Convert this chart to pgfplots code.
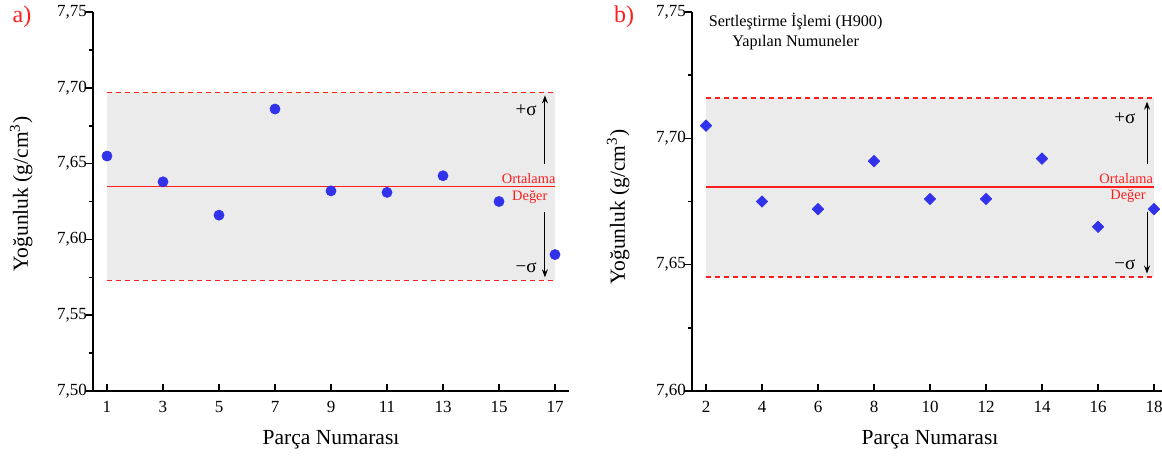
\documentclass[border=0pt]{standalone}
\usepackage{fontspec}
\setmainfont{Liberation Serif}
\usepackage{pgfplots}
\pgfplotsset{compat=1.18}
\usetikzlibrary{arrows.meta}
\definecolor{ptblue}{RGB}{50,50,235}
\definecolor{shadegray}{RGB}{235,235,235}
\definecolor{mred}{RGB}{255,30,30}

\pgfplotsset{
 dens/.style={
  scale only axis, width=238pt, height=189.5pt,
  axis lines*=left,
  axis line style={line width=0.8pt},
  xtick align=inside, ytick align=outside,
  major tick length=3.5pt, minor tick length=2pt,
  every tick/.style={black, line width=0.8pt},
  minor y tick num=1,
  tick label style={font=\fontsize{8.5}{10}\selectfont},
  /pgf/number format/assume math mode=true,
  y tick label style={xshift=4pt, /pgf/number format/.cd, fixed, fixed zerofill, precision=2, use comma, /tikz/.cd},
  x tick label style={yshift=-1.5pt},
  xlabel={Parça Numarası},
  ylabel={Yoğunluk (g/cm\textsuperscript{3})},
  label style={font=\fontsize{10.75}{12}\selectfont},
  x label style={at={(axis description cs:0.5,-0.129)}, anchor=center},
  clip=false,
  redline/.style={draw=mred, line width=0.8pt, mark=none},
  reddash/.style={draw=mred, line width=0.8pt, mark=none, dash pattern=on 2.5pt off 2pt},
  sigarrow/.style={draw=black, line width=0.5pt, mark=none, -{Stealth[length=4pt, width=3pt]}},
 }
}

\begin{document}
\begin{tikzpicture}
% ---------------- a) ----------------
\begin{axis}[dens, at={(46.5pt,33pt)}, anchor=south west,
  xmin=0.5, xmax=17.5, ymin=7.5, ymax=7.75,
  xtick={1,3,5,7,9,11,13,15,17},
  ytick={7.50,7.55,7.60,7.65,7.70,7.75},
  y label style={at={(axis description cs:-0.151,0.52)}, anchor=center}]
\addplot[fill=shadegray, draw=none, mark=none] coordinates {(1,7.573) (17,7.573) (17,7.697) (1,7.697)};
\addplot[reddash] coordinates {(1,7.697) (17,7.697)};
\addplot[reddash] coordinates {(1,7.573) (17,7.573)};
\addplot[redline] coordinates {(1,7.635) (17,7.635)};
\addplot[only marks, mark=*, mark size=2.5pt, mark options={fill=ptblue, draw=ptblue}] coordinates {
 (1,7.655) (3,7.638) (5,7.616) (7,7.686) (9,7.632) (11,7.631) (13,7.642) (15,7.625) (17,7.590)};
\addplot[sigarrow] coordinates {(16.64,7.650) (16.64,7.695)};
\addplot[sigarrow] coordinates {(16.64,7.618) (16.64,7.575)};
\node[text=black, font=\fontsize{9.5}{10}\selectfont, inner sep=0pt] at (axis cs:15.97,7.685) {+σ};
\node[text=black, font=\fontsize{9.5}{10}\selectfont, inner sep=0pt] at (axis cs:15.97,7.581) {−σ};
\node[text=mred, font=\fontsize{7.2}{8}\selectfont, anchor=east, inner sep=0pt] at (axis cs:17.03,7.640) {Ortalama};
\node[text=mred, font=\fontsize{7.2}{8}\selectfont, inner sep=0pt] at (axis cs:16.1,7.628) {Değer};
\end{axis}
% ---------------- b) ----------------
\begin{axis}[dens, at={(346pt,33pt)}, anchor=south west,
  xmin=1.5, xmax=18.5, ymin=7.6, ymax=7.75,
  xtick={2,4,6,8,10,12,14,16,18},
  ytick={7.60,7.65,7.70,7.75},
  y label style={at={(axis description cs:-0.155,0.485)}, anchor=center}]
\addplot[fill=shadegray, draw=none, mark=none] coordinates {(2,7.645) (18,7.645) (18,7.716) (2,7.716)};
\addplot[draw=mred, line width=1pt, mark=none, dash pattern=on 2.5pt off 2pt] coordinates {(2,7.716) (18,7.716)};
\addplot[draw=mred, line width=1pt, mark=none, dash pattern=on 2.5pt off 2pt] coordinates {(2,7.6451) (18,7.6451)};
\addplot[draw=mred, line width=1pt, mark=none] coordinates {(2,7.6806) (18,7.6806)};
\addplot[only marks, mark=square*, mark size=2pt, mark options={fill=ptblue, draw=ptblue, rotate=45}] coordinates {
 (2,7.705) (4,7.675) (6,7.672) (8,7.691) (10,7.676) (12,7.676) (14,7.692) (16,7.665) (18,7.672)};
\addplot[sigarrow] coordinates {(17.75,7.690) (17.75,7.7145)};
\addplot[sigarrow] coordinates {(17.75,7.671) (17.75,7.6465)};
\node[text=black, font=\fontsize{9.5}{10}\selectfont, inner sep=0pt] at (axis cs:16.96,7.708) {+σ};
\node[text=black, font=\fontsize{9.5}{10}\selectfont, inner sep=0pt] at (axis cs:16.96,7.650) {−σ};
\node[text=mred, font=\fontsize{7.2}{8}\selectfont, anchor=east, inner sep=0pt] at (axis cs:17.98,7.684) {Ortalama};
\node[text=mred, font=\fontsize{7.2}{8}\selectfont, inner sep=0pt] at (axis cs:17.07,7.677) {Değer};
\node[text=black, font=\fontsize{8.1}{10}\selectfont, align=center, inner sep=0pt] at (axis cs:5.2,7.7424) {Sertleştirme İşlemi (H900)\\Yapılan Numuneler};
\end{axis}
\node[text=mred, font=\fontsize{12}{13}\selectfont] at (11pt,220pt) {a)};
\node[text=mred, font=\fontsize{12}{13}\selectfont] at (312pt,220pt) {b)};
\pgfresetboundingbox
\path[use as bounding box] (0,0) rectangle (581pt,228.5pt);
\end{tikzpicture}
\end{document}
